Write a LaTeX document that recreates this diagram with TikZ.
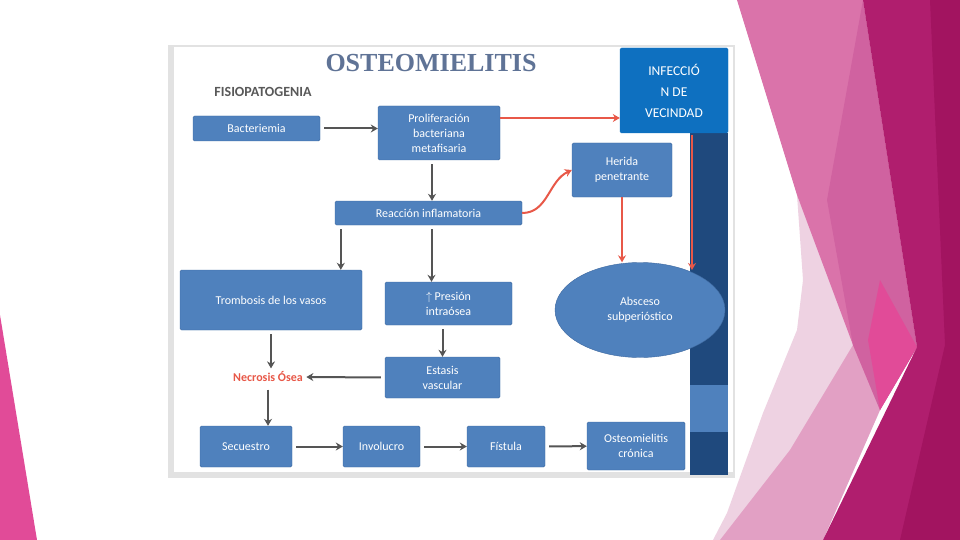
\documentclass[tikz,border=0pt]{standalone}
\usepackage{fontspec}
\setmainfont{Carlito}
\newfontfamily\titlefont{Liberation Serif}
\usetikzlibrary{shapes.geometric,arrows.meta}
\definecolor{boxblue}{RGB}{79,129,189}
\definecolor{boxedge}{RGB}{62,105,160}
\definecolor{infblue}{RGB}{14,112,192}
\definecolor{barnavy}{RGB}{31,73,125}
\definecolor{titlegray}{RGB}{95,115,150}
\definecolor{arrowgray}{RGB}{85,85,85}
\definecolor{arrowred}{RGB}{232,88,72}
\definecolor{pinkpale}{RGB}{238,210,226}
\definecolor{pinklight}{RGB}{226,160,196}
\definecolor{pinkmid}{RGB}{218,115,170}
\definecolor{pinkdeep}{RGB}{208,98,160}
\definecolor{pinkhot}{RGB}{225,75,152}
\definecolor{magentaA}{RGB}{176,30,110}
\definecolor{magentaB}{RGB}{162,20,96}
\definecolor{framegray}{RGB}{226,226,226}

\tikzset{
  box/.style={fill=boxblue, draw=boxedge, rounded corners=1.5pt, text=white,
    align=center, font=\fontsize{12}{15}\selectfont, inner sep=2pt},
  grayarrow/.style={draw=arrowgray, line width=2pt, shorten <=4pt,
    -{Stealth[length=7pt,width=8pt]}},
  redarrow/.style={draw=arrowred, line width=2pt,
    -{Stealth[length=7pt,width=8pt]}}
}

\begin{document}
\begin{tikzpicture}[x=1pt,y=-1pt]

% Background
\useasboundingbox (0,0) rectangle (960,540);
\fill[white] (0,0) rectangle (960,540);

% Pink shapes of the slide
\fill[pinkpale] (797,195) -- (855,340) -- (880,410) -- (823,540) -- (713,540) -- (727,513)
  -- (763,413) -- (797,330) -- (803,280) -- cycle;
\fill[pinklight] (853,345) -- (880,410) -- (823,540) -- (720,540) -- (790,450) -- cycle;
\fill[pinkmid] (737,0) -- (863,0) -- (917,347) -- (880,410) -- (853,345) -- (797,195) -- cycle;
\fill[pinkdeep] (863,0) -- (917,347) -- (880,410) -- (853,345) -- (827,200) -- cycle;
\fill[pinkhot] (880,280) -- (917,347) -- (880,410) -- (868,340) -- cycle;
\fill[magentaA] (863,0) -- (960,0) -- (960,540) -- (823,540) -- (917,347) -- cycle;
\fill[magentaB] (930,0) -- (960,0) -- (960,540) -- (900,540) -- (945,345) -- cycle;
\fill[pinkhot] (0,315) -- (37,540) -- (0,540) -- cycle;

% Picture frame
\fill[framegray] (168,45) rectangle (735,478);
\fill[white] (174,47) rectangle (733,472);

% Title
\node[font=\titlefont\bfseries\fontsize{26}{28}\selectfont, text=titlegray] (title) at (431,63) {OSTEOMIELITIS};
\node[font=\bfseries\fontsize{14}{16}\selectfont, text=black!65] (sub) at (263,92) {FISIOPATOGENIA};

% Right column
\fill[barnavy] (690,133) rectangle (728,385);
\fill[boxblue] (690,385) rectangle (728,432);
\fill[barnavy] (690,432) rectangle (728,475);

% Boxes
\node[box, minimum width=127, minimum height=25] (bacteriemia) at (256.5,128.5) {Bacteriemia};
\node[box, minimum width=122, minimum height=54] (prolif) at (439,133) {Proliferación\\bacteriana\\metafisaria};
\node[box, fill=infblue, draw=infblue, minimum width=108, minimum height=85,
  font=\fontsize{13.5}{21}\selectfont] (infeccion) at (674,90.5) {INFECCIÓ\\N DE\\VECINDAD};
\node[box, minimum width=100, minimum height=54] (herida) at (622,170) {Herida\\penetrante};
\node[box, minimum width=187, minimum height=24] (reaccion) at (428.5,213) {Reacción inflamatoria};
\node[box, minimum width=182, minimum height=60] (trombosis) at (271,300) {Trombosis de los vasos};
\node[box, minimum width=127, minimum height=43] (presion) at (448.5,303.5) {$\uparrow$ Presión\\intraósea};
\node[box, ellipse, minimum width=170, minimum height=95] (absceso) at (640,310) {Absceso\\subperióstico};
\node[box, minimum width=115, minimum height=41] (estasis) at (442.5,377.5) {Estasis\\vascular};
\node[font=\bfseries\fontsize{12}{14}\selectfont, text=arrowred] (necrosis) at (268,377) {Necrosis Ósea};
\node[box, minimum width=92, minimum height=41] (secuestro) at (246,446.5) {Secuestro};
\node[box, minimum width=77, minimum height=41] (involucro) at (381.5,446.5) {Involucro};
\node[box, minimum width=78, minimum height=41] (fistula) at (506,446.5) {Fístula};
\node[box, minimum width=98, minimum height=48] (cronica) at (636,446) {Osteomielitis\\crónica};

% Gray arrows
\draw[grayarrow] (bacteriemia.east) -- (bacteriemia.east -| prolif.west);
\draw[grayarrow] ([xshift=-7pt]prolif.south) -- ([xshift=-7pt]prolif.south |- reaccion.north);
\draw[grayarrow] ([xshift=6pt]reaccion.south west) -- ([xshift=6pt]reaccion.south west |- trombosis.north);
\draw[grayarrow] ([xshift=3pt]reaccion.south) -- ([xshift=3pt]reaccion.south |- presion.north);
\draw[grayarrow] (trombosis.south) -- (trombosis.south |- necrosis.north);
\draw[grayarrow] (estasis.north |- presion.south) -- (estasis.north);
\draw[grayarrow] (estasis.west) -- (necrosis.east);
\draw[grayarrow] (necrosis.south) -- (necrosis.south |- secuestro.north);
\draw[grayarrow] (secuestro) -- (involucro);
\draw[grayarrow] (involucro) -- (fistula);
\draw[grayarrow] (fistula) -- (cronica);

% Red arrows
\coordinate (redtop) at (692,135);
\coordinate (redend) at (692,270);
\draw[redarrow] ([yshift=15pt]prolif.east) -- ([yshift=15pt]prolif.east -| infeccion.west);
\draw[redarrow] (reaccion.east) to[out=0,in=205] (herida.west);
\draw[redarrow] (herida.south) -- (herida.south |- absceso.north);
\draw[redarrow] (redtop) -- (redend);

\end{tikzpicture}
\end{document}
